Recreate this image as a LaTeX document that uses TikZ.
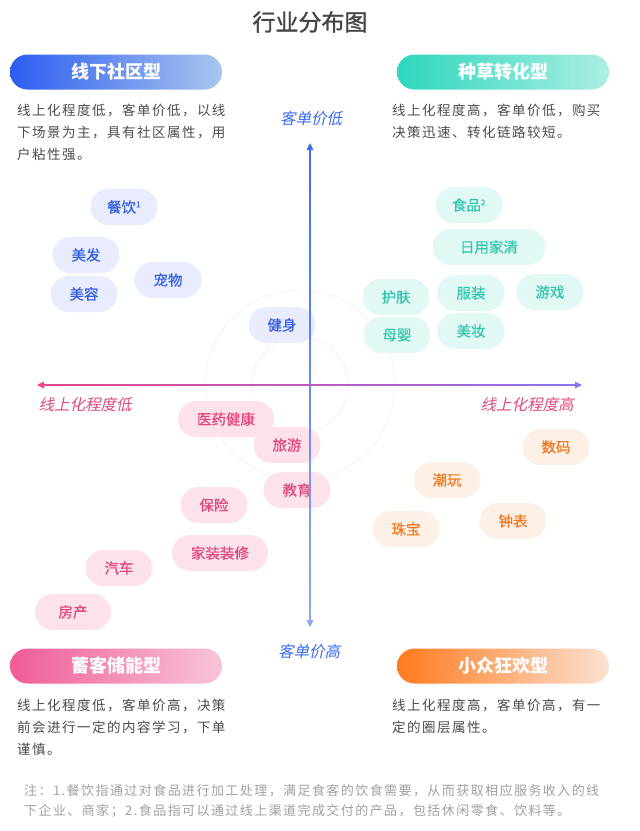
\documentclass[tikz,border=0pt]{standalone}
\usepackage{fontspec}
\setmainfont{Noto Sans CJK SC}
\newfontfamily\slantfont[FakeSlant=0.22]{Noto Sans CJK SC}
\newfontfamily\descfont[LetterSpace=11]{Noto Sans CJK SC}
\newfontfamily\pillfont[FakeBold=0.6]{Noto Sans CJK SC}
\newfontfamily\titlefont[FakeBold=1.2]{Noto Sans CJK SC}
\usetikzlibrary{arrows.meta}
\definecolor{titlegray}{HTML}{454545}
\definecolor{descgray}{HTML}{4C4C4C}
\definecolor{notegray}{HTML}{A0A0A0}
\definecolor{bgline}{HTML}{F0F0F4}
\definecolor{blueA}{HTML}{2B5CF0}
\definecolor{blueB}{HTML}{A9C6EE}
\definecolor{tealA}{HTML}{2ED6BE}
\definecolor{tealB}{HTML}{ABEFE2}
\definecolor{pinkA}{HTML}{F05C96}
\definecolor{pinkB}{HTML}{F8C4DA}
\definecolor{oranA}{HTML}{FF7A1E}
\definecolor{oranB}{HTML}{FAE2D2}
\definecolor{bluefill}{HTML}{E8ECFC}
\definecolor{bluetext}{HTML}{3560E0}
\definecolor{tealfill}{HTML}{E2F8F4}
\definecolor{tealtext}{HTML}{33C6AE}
\definecolor{pinkfill}{HTML}{FDE2EC}
\definecolor{pinktext}{HTML}{E2457E}
\definecolor{oranfill}{HTML}{FDF0E6}
\definecolor{orantext}{HTML}{F07A22}
\definecolor{axtop}{HTML}{3D6CF0}
\definecolor{axbot}{HTML}{8FA8F2}
\definecolor{axleft}{HTML}{E8468A}
\definecolor{axright}{HTML}{8C72F0}
\definecolor{labblue}{HTML}{3A68F0}
\definecolor{labpink}{HTML}{E04A7C}
\begin{document}
\begin{tikzpicture}[x=1pt,y=-1pt,
  hdr/.style={minimum width=212pt, minimum height=35pt, rounded corners=17.5pt,
    text=white, font=\fontsize{18}{20}\selectfont\bfseries, inner sep=0pt},
  pill/.style={minimum width=67pt, minimum height=36pt, rounded corners=18pt,
    font=\pillfont\fontsize{14.5}{16}\selectfont, inner sep=0pt},
  bpill/.style={pill, fill=bluefill, text=bluetext},
  tpill/.style={pill, fill=tealfill, text=tealtext},
  ppill/.style={pill, fill=pinkfill, text=pinktext},
  opill/.style={pill, fill=oranfill, text=orantext},
  desc/.style={anchor=north west, align=left, inner sep=0pt, text=descgray,
    font=\descfont\fontsize{13.5}{22}\selectfont},
  note/.style={anchor=north west, align=left, inner sep=0pt, text=notegray,
    font=\descfont\fontsize{13}{20}\selectfont},
  axlab/.style={font=\slantfont\fontsize{15.5}{18}\selectfont, inner sep=0pt}
]
\useasboundingbox (0,0) rectangle (640,831);
\fill[white] (0,0) rectangle (640,831);
% faint background decoration
\begin{scope}[bgline, line width=0.6pt]
  \draw (300,385) circle (48);
  \draw (300,385) circle (95);
\end{scope}

% title
\node[text=titlegray, font=\titlefont\fontsize{23}{26}\selectfont] (title) at (310,22) {行业分布图};

% headers
\node[hdr, left color=blueA, right color=blueB] (h1) at (116,72) {线下社区型};
\node[hdr, left color=tealA, right color=tealB] (h2) at (503,72) {种草转化型};
\node[hdr, left color=pinkA, right color=pinkB] (h3) at (116,666) {蓄客储能型};
\node[hdr, left color=oranA, right color=oranB] (h4) at (503,666) {小众狂欢型};

% descriptions
\node[desc] (d1) at (17,104) {线上化程度低，客单价低，以线\\下场景为主，具有社区属性，用\\户粘性强。};
\node[desc] (d2) at (392,104) {线上化程度高，客单价低，购买\\决策迅速、转化链路较短。};
\node[desc] (d3) at (17,699) {线上化程度低，客单价高，决策\\前会进行一定的内容学习，下单\\谨慎。};
\node[desc] (d4) at (392,699) {线上化程度高，客单价高，有一\\定的圈层属性。};

% footnote
\node[note] (fn) at (24,784) {注：1.餐饮指通过对食品进行加工处理，满足食客的饮食需要，从而获取相应服务收入的线\\下企业、商家；2.食品指可以通过线上渠道完成交付的产品，包括休闲零食、饮料等。};

% blue pills
\node[bpill] (cy) at (124,207) {餐饮\textsuperscript{\fontsize{8}{8}\selectfont 1}};
\node[bpill] (mf) at (86,255) {美发};
\node[bpill] (cw) at (168,280) {宠物};
\node[bpill] (mr) at (84,294) {美容};
\node[bpill] (js) at (282,325) {健身};

% teal pills
\node[tpill] (sp) at (469,205) {食品\textsuperscript{\fontsize{8}{8}\selectfont 2}};
\node[tpill, minimum width=113pt] (ry) at (489,247) {日用家清};
\node[tpill] (hf) at (396,297) {护肤};
\node[tpill] (fz) at (471,293) {服装};
\node[tpill] (yx) at (550,292) {游戏};
\node[tpill] (my) at (397,335) {母婴};
\node[tpill] (mz) at (471,331) {美妆};

% pink pills
\node[ppill, minimum width=96pt] (yy) at (226,419) {医药健康};
\node[ppill] (ly) at (287,445) {旅游};
\node[ppill] (jy) at (297,490) {教育};
\node[ppill] (bx) at (214,505) {保险};
\node[ppill, minimum width=96pt] (jz) at (220,553) {家装装修};
\node[ppill] (qc) at (119,568) {汽车};
\node[ppill, minimum width=76pt] (fc) at (73,612) {房产};

% orange pills
\node[opill] (sm) at (556,447) {数码};
\node[opill] (cwan) at (447,480) {潮玩};
\node[opill] (zb) at (513,521) {钟表};
\node[opill] (zbao) at (406,529) {珠宝};

% axes
\coordinate (ytop) at (310,143);
\coordinate (ybot) at (310,627);
\coordinate (xl) at (37,385);
\coordinate (xr) at (582,385);
\shade[top color=axtop, bottom color=axbot] (309.2,149) rectangle (310.8,621);
\fill[axtop] (ytop) -- ++(-3.5,7) -- ++(7,0) -- cycle;
\fill[axbot] (ybot) -- ++(-3.5,-7) -- ++(7,0) -- cycle;
\shade[left color=axleft, right color=axright] (43,384.2) rectangle (576,385.8);
\fill[axleft] (xl) -- ++(7,-3.5) -- ++(0,7) -- cycle;
\fill[axright] (xr) -- ++(-7,-3.5) -- ++(0,7) -- cycle;

% axis labels
\node[axlab, text=labblue] (yl) at (311,119) {客单价低};
\node[axlab, text=labblue] (yh) at (309,652) {客单价高};
\node[axlab, text=labpink] (xlow) at (85,405) {线上化程度低};
\node[axlab, text=labpink] (xhigh) at (527,405) {线上化程度高};
\end{tikzpicture}
\end{document}
